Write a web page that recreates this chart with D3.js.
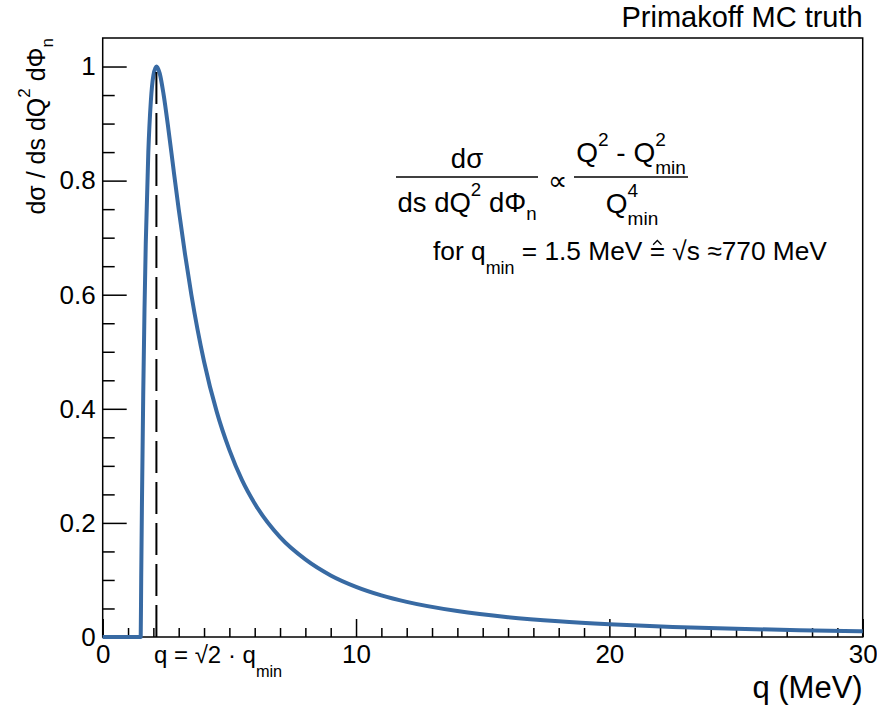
<!DOCTYPE html>
<html>
<head>
<meta charset="utf-8">
<script src="https://cdn.jsdelivr.net/npm/d3@7"></script>
<style>
  body { margin: 0; background: #fff; }
  text { font-family: "Liberation Sans", Arial, Helvetica, sans-serif; fill: #000; white-space: pre; }
</style>
</head>
<body>
<svg id="chart" width="877" height="707"></svg>
<script>
// values (normalised so the peak is 1)
const qValues = [0, 1.5, 1.52, 1.55, 1.6, 1.65, 1.7, 1.8, 1.9, 2.0, 2.12, 2.25, 2.4, 2.6, 2.8, 3, 3.25, 3.5,
  4, 4.5, 5, 5.5, 6, 7, 8, 9, 10, 11, 12, 14, 16, 18, 20, 22.5, 25, 27.5, 30];
const crossSection = [0, 0, 0.102, 0.238, 0.426, 0.574, 0.69, 0.849, 0.939, 0.984, 1.0, 0.988, 0.952, 0.888, 0.818, 0.75, 0.671, 0.6,
  0.483, 0.395, 0.328, 0.275, 0.234, 0.175, 0.136, 0.108, 0.088, 0.073, 0.0615, 0.0454, 0.0348, 0.0276, 0.0224, 0.0177, 0.0144, 0.0119, 0.01];
const peakMarker = [2.12];   // q = sqrt(2) * q_min

const xMajorTicks = [0, 10, 20, 30];
const xTickLabels = ["0", "10", "20", "30"];
const yMajorTicks = [0, 0.2, 0.4, 0.6, 0.8, 1];
const yTickLabels = ["0", "0.2", "0.4", "0.6", "0.8", "1"];

const plotLeft = 102.7, plotRight = 862.7, plotTop = 38, plotBottom = 637;
const lineColor = "#386aa3";

const svg = d3.select("#chart");

const x = d3.scaleLinear().domain([0, 30]).range([plotLeft, plotRight]);
const y = d3.scaleLinear().domain([0, 1.05]).range([plotBottom, plotTop]);

const xMinor = d3.range(0, 31, 1).filter(d => d % 10 !== 0);
const yMinor = d3.range(0, 21, 1).map(d => d * 0.05).filter(d => d <= 1.05 && Math.round(d * 100) % 20 !== 0);

// frame
svg.append("rect")
  .attr("x", plotLeft).attr("y", plotTop)
  .attr("width", plotRight - plotLeft).attr("height", plotBottom - plotTop)
  .attr("fill", "none").attr("stroke", "#000").attr("stroke-width", 1.5);

// x ticks, pointing up into the frame
function xTicks(values, size) {
  const g = svg.append("g").attr("transform", "translate(0," + plotBottom + ")")
    .call(d3.axisTop(x).tickValues(values).tickSize(size).tickFormat(""));
  g.select(".domain").remove();
  g.selectAll("line").attr("stroke", "#000").attr("stroke-width", 1.5);
}
xTicks(xMajorTicks, 18);
xTicks(xMinor, 9);

function yTicks(values, size) {
  const g = svg.append("g").attr("transform", "translate(" + plotLeft + ",0)")
    .call(d3.axisRight(y).tickValues(values).tickSize(size).tickFormat(""));
  g.select(".domain").remove();
  g.selectAll("line").attr("stroke", "#000").attr("stroke-width", 1.5);
}
yTicks(yMajorTicks, 24);
yTicks(yMinor, 12);

// tick labels
const xl = svg.append("g").attr("transform", "translate(0," + plotBottom + ")")
  .call(d3.axisBottom(x).tickValues(xMajorTicks).tickSize(0).tickPadding(8)
    .tickFormat((d, i) => xTickLabels[i]));
xl.select(".domain").remove();
xl.selectAll("text").style("font-size", "26px").attr("font-family", null);

const yl = svg.append("g").attr("transform", "translate(" + plotLeft + ",0)")
  .call(d3.axisLeft(y).tickValues(yMajorTicks).tickSize(0).tickPadding(7)
    .tickFormat((d, i) => yTickLabels[i]));
yl.select(".domain").remove();
yl.selectAll("text").style("font-size", "26px").attr("font-family", null);

// rich text with ROOT-like super/subscripts
function rich(parent, parts, size) {
  const g = parent.append("g");
  let cx = 0;
  const small = size * 0.68;
  parts.forEach(p => {
    if (p.t !== undefined) {
      const t = g.append("text").attr("x", cx).attr("y", 0).style("font-size", size + "px").text(p.t);
      cx += t.node().getComputedTextLength();
    } else if (p.hat !== undefined) {
      // symbol with a small caret drawn on top (#hat)
      const t = g.append("text").attr("x", cx).attr("y", 0).style("font-size", size + "px").text(p.hat);
      const w = t.node().getComputedTextLength();
      const mid = cx + w / 2;
      g.append("path")
        .attr("d", "M" + (mid - size * 0.16) + "," + (-size * 0.58) +
          "L" + mid + "," + (-size * 0.74) +
          "L" + (mid + size * 0.16) + "," + (-size * 0.58))
        .attr("fill", "none").attr("stroke", "#000").attr("stroke-width", 1.3);
      cx += w;
    } else {
      let w = 0;
      if (p.sup) {
        const t = g.append("text").attr("x", cx).attr("y", -size * (p.high || 0.58)).style("font-size", small + "px").text(p.sup);
        w = Math.max(w, t.node().getComputedTextLength());
      }
      if (p.sub) {
        const t = g.append("text").attr("x", cx).attr("y", size * (p.low || 0.42)).style("font-size", small + "px").text(p.sub);
        w = Math.max(w, t.node().getComputedTextLength());
      }
      cx += w;
    }
  });
  return { g: g, width: cx };
}
function placeCentered(r, cx, by) { r.g.attr("transform", "translate(" + (cx - r.width / 2) + "," + by + ")"); }
function placeLeft(r, lx, by) { r.g.attr("transform", "translate(" + lx + "," + by + ")"); }

// the curve
const line = d3.line()
  .x((d, i) => x(qValues[i]))
  .y(d => y(d))
  .curve(d3.curveMonotoneX);

svg.append("path")
  .datum(crossSection)
  .attr("d", line)
  .attr("fill", "none")
  .attr("stroke", lineColor)
  .attr("stroke-width", 4)
  .attr("stroke-linejoin", "round");

// dashed marker at the peak
svg.selectAll(".peak")
  .data(peakMarker)
  .enter().append("line")
  .attr("class", "peak")
  .attr("x1", d => x(d)).attr("x2", d => x(d))
  .attr("y1", y(0)).attr("y2", y(1))
  .attr("stroke", "#000").attr("stroke-width", 2)
  .attr("stroke-dasharray", "32,9");

// header
svg.append("text")
  .attr("x", plotRight).attr("y", 27)
  .attr("text-anchor", "end")
  .style("font-size", "29px")
  .text("Primakoff MC truth");

// axis titles
svg.append("text")
  .attr("x", plotRight).attr("y", 698)
  .attr("text-anchor", "end")
  .style("font-size", "31px")
  .text("q (MeV)");

const yt = rich(svg, [{ t: "dσ / ds dQ" }, { sup: "2", high: 0.62 }, { t: " dΦ" }, { sub: "n", low: 0.3 }], 25);
yt.g.attr("transform", "translate(45," + (plotTop + yt.width) + ") rotate(-90)");

// formula
const num1 = rich(svg, [{ t: "dσ" }], 27.5);
placeCentered(num1, 467, 168);
const den1 = rich(svg, [{ t: "ds dQ" }, { sup: "2" }, { t: " dΦ" }, { sub: "n", low: 0.3 }], 27.5);
placeCentered(den1, 467, 212);
svg.append("line").attr("x1", 396).attr("x2", 538).attr("y1", 177).attr("y2", 177)
  .attr("stroke", "#000").attr("stroke-width", 1.5);

svg.append("text").attr("x", 557).attr("y", 190).attr("text-anchor", "middle")
  .style("font-size", "27px").text("∝");

const num2 = rich(svg, [{ t: "Q" }, { sup: "2" }, { t: " - Q" }, { sup: "2", sub: "min" }], 28);
placeCentered(num2, 631, 162);
const den2 = rich(svg, [{ t: "Q" }, { sup: "4", sub: "min" }], 28);
placeCentered(den2, 632, 213);
svg.append("line").attr("x1", 574).attr("x2", 688).attr("y1", 177).attr("y2", 177)
  .attr("stroke", "#000").attr("stroke-width", 1.5);

const forLine = rich(svg, [{ t: "for q" }, { sub: "min", low: 0.55 }, { t: " = 1.5 MeV " }, { hat: "=" }, { t: " √s ≈770 MeV" }], 26.3);
placeLeft(forLine, 433, 260);

// peak label under the axis
const peakLabel = rich(svg, [{ t: "q = √2 · q" }, { sub: "min", low: 0.6 }], 24);
placeLeft(peakLabel, 154, 663);
</script>
</body>
</html>
